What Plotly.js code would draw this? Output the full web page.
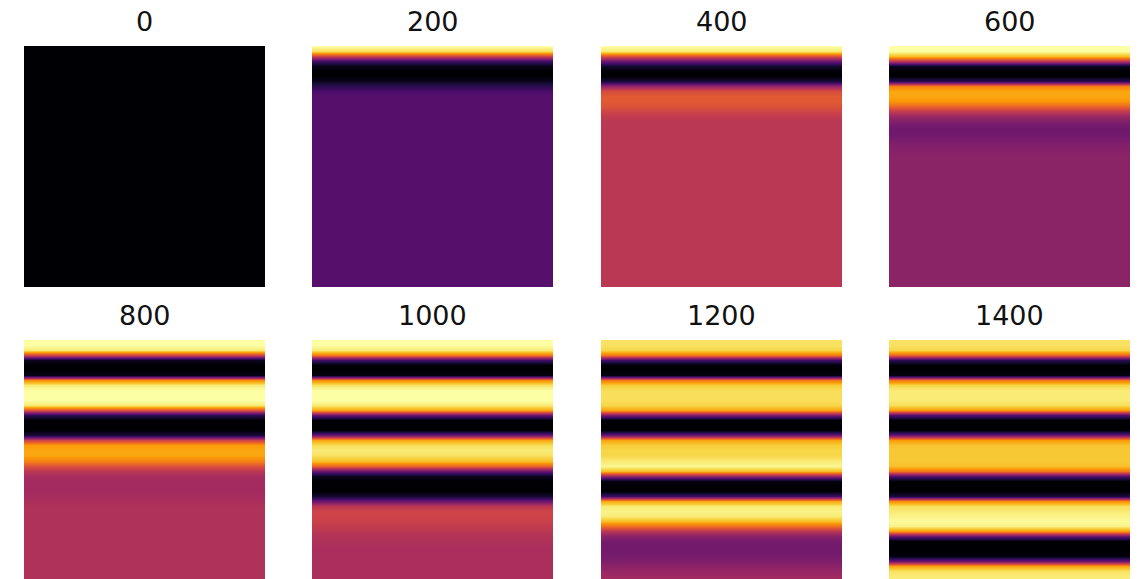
<!DOCTYPE html>
<html>
<head>
<meta charset="utf-8">
<script src="https://cdn.plot.ly/plotly-3.0.1.min.js"></script>
<style>html,body{margin:0;padding:0;background:#fff;}#chart{width:1141px;height:579px;}</style>
</head>
<body>
<div id="chart"></div>
<script>
// Panel titles (time steps)
const panelTitles = ["0", "200", "400", "600", "800", "1000", "1200", "1400"];

// Depth (row) positions of the sampled profiles, top of image = 0
const depth = [0,5,10,15,20,25,30,35,40,45,
  50,55,60,65,70,75,80,85,90,95,
  100,105,110,115,120,125,130,135,140,145,
  150,155,160,165,170,175,180,185,190,195,
  200,205,210,215,220,225,230,235,240];

// Image columns (the fields are uniform across the width)
const cols = [0, 1, 2];

const p0 = [0,0,0,0,0,0,0,0,0,0,
  0,0,0,0,0,0,0,0,0,0,
  0,0,0,0,0,0,0,0,0,0,
  0,0,0,0,0,0,0,0,0,0,
  0,0,0,0,0,0,0,0,0];
const p200 = [1.00,0.92,0.55,0.20,0.03,0.00,0.00,0.05,0.15,0.22,
  0.25,0.25,0.25,0.25,0.25,0.25,0.25,0.25,0.25,0.25,
  0.25,0.25,0.25,0.25,0.25,0.25,0.25,0.25,0.25,0.25,
  0.25,0.25,0.25,0.25,0.25,0.25,0.25,0.25,0.25,0.25,
  0.25,0.25,0.25,0.25,0.25,0.25,0.25,0.25,0.25];
const p400 = [1.00,0.95,0.60,0.30,0.08,0.00,0.00,0.10,0.40,0.58,
  0.62,0.62,0.60,0.56,0.52,0.50,0.50,0.50,0.50,0.50,
  0.50,0.50,0.50,0.50,0.50,0.50,0.50,0.50,0.50,0.50,
  0.50,0.50,0.50,0.50,0.50,0.50,0.50,0.50,0.50,0.50,
  0.50,0.50,0.50,0.50,0.50,0.50,0.50,0.50,0.50];
const p600 = [1.00,1.00,0.85,0.50,0.05,0.00,0.00,0.15,0.72,0.80,
  0.80,0.77,0.66,0.52,0.42,0.36,0.32,0.31,0.32,0.34,
  0.36,0.37,0.38,0.38,0.38,0.38,0.38,0.38,0.38,0.38,
  0.38,0.38,0.38,0.38,0.38,0.38,0.38,0.38,0.38,0.38,
  0.38,0.38,0.38,0.38,0.38,0.38,0.38,0.38,0.38];
const p800 = [1.00,1.00,0.95,0.55,0.05,0.00,0.00,0.03,0.75,0.95,
  1.00,1.00,1.00,0.95,0.60,0.15,0.00,0.00,0.00,0.10,
  0.55,0.78,0.80,0.80,0.72,0.60,0.50,0.45,0.44,0.44,
  0.44,0.45,0.46,0.47,0.47,0.47,0.47,0.47,0.47,0.47,
  0.47,0.47,0.47,0.47,0.47,0.47,0.47,0.47,0.47];
const p1000 = [1.00,1.00,0.95,0.70,0.20,0.00,0.00,0.02,0.75,0.93,
  1.00,1.00,1.00,0.95,0.80,0.30,0.00,0.00,0.00,0.30,
  0.80,0.92,0.95,0.93,0.85,0.65,0.30,0.05,0.00,0.00,
  0.00,0.08,0.30,0.50,0.55,0.55,0.54,0.52,0.50,0.48,
  0.47,0.46,0.46,0.46,0.46,0.46,0.46,0.46,0.46];
const p1200 = [0.93,0.93,0.90,0.70,0.20,0.00,0.00,0.02,0.70,0.88,
  0.92,0.92,0.92,0.90,0.80,0.35,0.00,0.00,0.00,0.30,
  0.80,0.88,0.90,0.90,0.95,0.98,0.85,0.40,0.02,0.00,
  0.00,0.20,0.80,0.95,0.97,0.95,0.85,0.68,0.50,0.38,
  0.33,0.32,0.32,0.33,0.35,0.38,0.41,0.43,0.44];
const p1400 = [0.93,0.93,0.90,0.65,0.15,0.00,0.00,0.02,0.70,0.90,
  0.95,0.95,0.95,0.92,0.78,0.25,0.00,0.00,0.00,0.30,
  0.78,0.86,0.87,0.87,0.87,0.85,0.70,0.25,0.00,0.00,
  0.00,0.10,0.75,0.92,0.95,0.97,0.99,0.97,0.78,0.30,
  0.00,0.00,0.00,0.02,0.30,0.80,0.93,0.95,0.95];

const profiles = [p0, p200, p400, p600, p800, p1000, p1200, p1400];

// Inferno colour map
const inferno = [
  [0.000, "#000004"], [0.111, "#1b0c41"], [0.222, "#4a0c6b"], [0.333, "#781c6d"],
  [0.444, "#a52c60"], [0.556, "#cf4446"], [0.667, "#ed6925"], [0.778, "#fb9b06"],
  [0.889, "#f7d13d"], [1.000, "#fcffa4"]
];

const W = 1141, H = 579;
const colLeft = [24, 312, 601, 889];
const panelW = 241;
const rowTop = [46, 340];
const rowBottom = [287, 579];
const rowRange = [[240, 0], [238, 0]];
const titleY = [22, 315];

const data = [];
const layout = {
  width: W, height: H,
  margin: {l: 0, r: 0, t: 0, b: 0},
  paper_bgcolor: "#ffffff",
  plot_bgcolor: "#ffffff",
  showlegend: false,
  annotations: []
};

profiles.forEach((prof, i) => {
  const r = Math.floor(i / 4), c = i % 4;
  const n = i + 1;
  const xa = "x" + (n === 1 ? "" : n);
  const ya = "y" + (n === 1 ? "" : n);
  data.push({
    type: "heatmap",
    x: cols,
    y: depth,
    z: prof.map(v => cols.map(() => v)),
    zmin: 0, zmax: 1,
    colorscale: inferno,
    zsmooth: "best",
    showscale: false,
    xaxis: xa, yaxis: ya,
    hoverinfo: "skip"
  });
  const axBase = {showgrid: false, zeroline: false, showline: false, showticklabels: false, ticks: "", fixedrange: true};
  layout["xaxis" + (n === 1 ? "" : n)] = Object.assign({}, axBase, {
    domain: [colLeft[c] / W, (colLeft[c] + panelW) / W],
    range: [0.5, 1.5],
    anchor: ya
  });
  layout["yaxis" + (n === 1 ? "" : n)] = Object.assign({}, axBase, {
    domain: [1 - rowBottom[r] / H, 1 - rowTop[r] / H],
    range: rowRange[r],
    anchor: xa
  });
  layout.annotations.push({
    text: panelTitles[i],
    xref: "paper", yref: "paper",
    x: (colLeft[c] + panelW / 2) / W,
    y: 1 - titleY[r] / H,
    xanchor: "center", yanchor: "middle",
    showarrow: false,
    font: {family: "DejaVu Sans", size: 27, color: "#111111"}
  });
});

Plotly.newPlot("chart", data, layout, {displayModeBar: false, staticPlot: true});
</script>
</body>
</html>
